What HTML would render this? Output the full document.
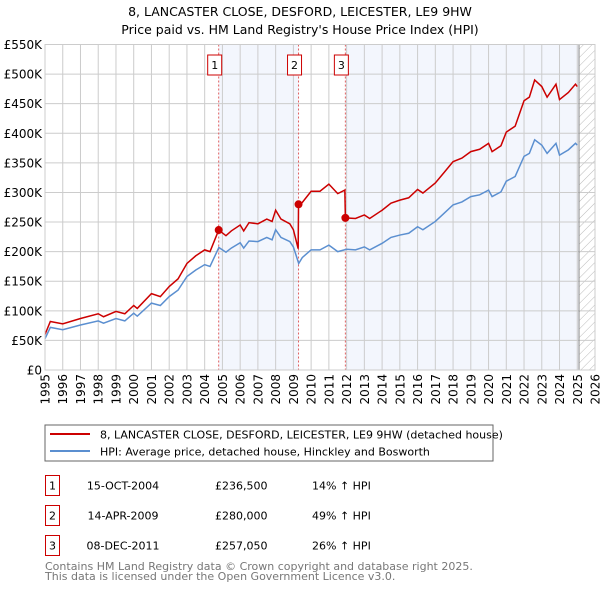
<!DOCTYPE html>
<html><head><meta charset="utf-8"><style>
body{margin:0;background:#fff;font-family:"Liberation Sans","DejaVu Sans",sans-serif;}
svg{display:block}
</style></head><body>
<svg id="c" width="600" height="590" xmlns="http://www.w3.org/2000/svg" font-family="DejaVu Sans, Liberation Sans, sans-serif">
<defs><pattern id="hatch" width="6" height="6" patternUnits="userSpaceOnUse" patternTransform="rotate(45)"><line x1="0" y1="0" x2="0" y2="6" stroke="#bbb" stroke-width="1"/></pattern></defs>
<text x="300" y="16" text-anchor="middle" font-size="12.5" fill="#000">8, LANCASTER CLOSE, DESFORD, LEICESTER, LE9 9HW</text>
<text x="300" y="34" text-anchor="middle" font-size="12.5" fill="#000">Price paid vs. HM Land Registry's House Price Index (HPI)</text>
<g id="plot"></g>
<rect x="45" y="425" width="448" height="36" fill="#fff" stroke="#666"/>
<line x1="50" y1="434" x2="90" y2="434" stroke="#cc0000" stroke-width="2"/>
<text x="100" y="438.5" font-size="11">8, LANCASTER CLOSE, DESFORD, LEICESTER, LE9 9HW (detached house)</text>
<line x1="50" y1="451" x2="90" y2="451" stroke="#5b8fd0" stroke-width="2"/>
<text x="100" y="455.5" font-size="11">HPI: Average price, detached house, Hinckley and Bosworth</text>
<g font-size="11">
<rect x="45.5" y="475.5" width="14" height="20" fill="#fff" stroke="#cc0000"/><text x="52.5" y="489.5" text-anchor="middle">1</text>
<text x="123" y="489.5" text-anchor="middle">15-OCT-2004</text><text x="215" y="489.5">£236,500</text><text x="312" y="489.5">14% ↑ HPI</text>
<rect x="45.5" y="505.5" width="14" height="20" fill="#fff" stroke="#cc0000"/><text x="52.5" y="519.5" text-anchor="middle">2</text>
<text x="123" y="519.5" text-anchor="middle">14-APR-2009</text><text x="215" y="519.5">£280,000</text><text x="312" y="519.5">49% ↑ HPI</text>
<rect x="45.5" y="535.5" width="14" height="20" fill="#fff" stroke="#cc0000"/><text x="52.5" y="549.5" text-anchor="middle">3</text>
<text x="123" y="549.5" text-anchor="middle">08-DEC-2011</text><text x="215" y="549.5">£257,050</text><text x="312" y="549.5">26% ↑ HPI</text>
</g>
<text x="45" y="570" font-size="11" fill="#777">Contains HM Land Registry data © Crown copyright and database right 2025.</text>
<text x="45" y="580" font-size="11" fill="#777">This data is licensed under the Open Government Licence v3.0.</text>
</svg>
<script>
const hpiYears=[1995.0,1995.3,1996.0,1997.0,1998.0,1998.3,1999.0,1999.5,2000.0,2000.2,2001.0,2001.5,2002.0,2002.5,2003.0,2003.5,2004.0,2004.3,2004.8,2005.2,2005.5,2006.0,2006.2,2006.5,2007.0,2007.5,2007.8,2008.0,2008.3,2008.8,2009.0,2009.3,2009.5,2010.0,2010.5,2011.0,2011.5,2012.0,2012.5,2013.0,2013.3,2014.0,2014.5,2015.0,2015.5,2016.0,2016.3,2017.0,2017.5,2018.0,2018.5,2019.0,2019.5,2020.0,2020.2,2020.7,2021.0,2021.5,2022.0,2022.3,2022.6,2023.0,2023.3,2023.8,2024.0,2024.5,2024.9,2025.0];
const hpiValues=[53,72,68,76,83,79,87,83,96,91,113,109,124,135,158,169,178,175,207,199,206,215,206,218,217,224,220,237,224,217,208,180,190,203,203,211,200,204,203,208,203,214,224,228,231,242,237,251,265,279,284,293,296,304,293,301,319,327,361,366,389,380,366,383,363,372,383,380];
const priceYears=[1995.0,1995.3,1996.0,1997.0,1998.0,1998.3,1999.0,1999.5,2000.0,2000.2,2001.0,2001.5,2002.0,2002.5,2003.0,2003.5,2004.0,2004.3,2004.79,2005.2,2005.5,2006.0,2006.2,2006.5,2007.0,2007.5,2007.8,2008.0,2008.3,2008.8,2009.0,2009.27,2009.29,2009.5,2010.0,2010.5,2011.0,2011.5,2011.9,2011.93,2012.5,2013.0,2013.3,2014.0,2014.5,2015.0,2015.5,2016.0,2016.3,2017.0,2017.5,2018.0,2018.5,2019.0,2019.5,2020.0,2020.2,2020.7,2021.0,2021.5,2022.0,2022.3,2022.6,2023.0,2023.3,2023.8,2024.0,2024.5,2024.9,2025.0];
const priceValues=[60,82,78,87,95,90,99,95,109,104,129,124,141,154,180,193,203,200,236.5,227,235,245,235,249,247,255,251,270,255,247,237,205,280,283,302,302,314,298,304,257,256,262,256,270,282,287,291,305,299,316,334,352,358,369,373,383,369,379,402,412,455,461,490,479,461,483,457,469,483,479];
const saleYears=[2004.79,2009.29,2011.93];
const saleValues=[236.5,280,257.05];
const saleLabels=["1","2","3"];
const yTicks=[0,50,100,150,200,250,300,350,400,450,500,550];
const yTickLabels=["£0","£50K","£100K","£150K","£200K","£250K","£300K","£350K","£400K","£450K","£500K","£550K"];
const xTicks=[1995,1996,1997,1998,1999,2000,2001,2002,2003,2004,2005,2006,2007,2008,2009,2010,2011,2012,2013,2014,2015,2016,2017,2018,2019,2020,2021,2022,2023,2024,2025,2026];

const X0=45,X1=595,Y0=370,Y1=44.5,dataEnd=2025.1;
const xs=v=>X0+(v-1995)/31*(X1-X0);
const ys=v=>Y0-v/550*(Y0-Y1);
const NS="http://www.w3.org/2000/svg";
const g=document.getElementById('plot');
function mk(t,a,p){const e=document.createElementNS(NS,t);for(const k in a)e.setAttribute(k,a[k]);(p||g).appendChild(e);return e;}

let e;
e=mk('rect',{x:xs(saleYears[0]),y:Y1,width:xs(saleYears[1])-xs(saleYears[0]),height:Y0-Y1,fill:'#eef2fc',opacity:0.7});


e=mk('rect',{x:xs(saleYears[2]),y:Y1,width:xs(dataEnd)-xs(saleYears[2]),height:Y0-Y1,fill:'#eef2fc',opacity:0.7});


e=mk('rect',{x:xs(dataEnd),y:Y1,width:X1-xs(dataEnd),height:Y0-Y1,fill:'url(#hatch)'});



yTicks.forEach((t,i)=>{
  e=mk('line',{x1:X0,x2:X1,y1:ys(t),y2:ys(t),stroke:'#ccc','stroke-width':1});
  
  
  e=mk('text',{x:X0-3,y:ys(t)+4.5,'text-anchor':'end','font-size':12});
  e.textContent=yTickLabels[i];
  
  
});
xTicks.forEach(t=>{
  e=mk('line',{x1:xs(t),x2:xs(t),y1:Y1,y2:Y0,stroke:'#ccc','stroke-width':1});
  
  
  e=mk('text',{x:0,y:0,'text-anchor':'end','font-size':12,transform:`translate(${xs(t)+4.5},374) rotate(-90)`});
  e.textContent=t;
  
  
});
e=mk('line',{x1:xs(dataEnd),x2:xs(dataEnd),y1:Y1,y2:Y0,stroke:'#888','stroke-width':1});



saleYears.forEach((s,i)=>{
  e=mk('line',{x1:xs(s),x2:xs(s),y1:Y1,y2:Y0,stroke:'#e06060','stroke-width':1,'stroke-dasharray':'2,2'});
  
  
});

e=mk('polyline',{points:hpiYears.map((y,i)=>xs(y)+','+ys(hpiValues[i])).join(' '),fill:'none',stroke:'#5b8fd0','stroke-width':1.5});


e=mk('polyline',{points:priceYears.map((y,i)=>xs(y)+','+ys(priceValues[i])).join(' '),fill:'none',stroke:'#cc0000','stroke-width':1.5});



saleYears.forEach((s,i)=>{
  e=mk('circle',{cx:xs(s),cy:ys(saleValues[i]),r:4,fill:'#cc0000'});
  
  
  e=mk('rect',{x:xs(s)-11,y:55,width:14,height:20,fill:'#fff',stroke:'#cc0000'});
  
  
  e=mk('text',{x:xs(s)-4,y:69,'text-anchor':'middle','font-size':11});
  e.textContent=saleLabels[i];
  
  
});
e=mk('rect',{x:X0,y:Y1,width:X1-X0,height:Y0-Y1,fill:'none',stroke:'#ccc'});


</script>
</body></html>
